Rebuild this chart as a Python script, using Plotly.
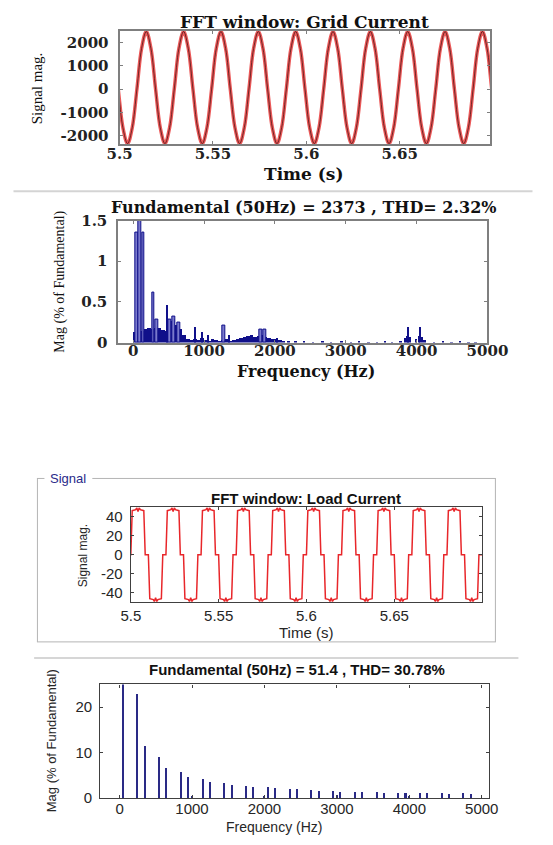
import plotly.graph_objects as go

# ---- data ----
# Grid current (top): one cycle shape, repeated at each cycle start (rising zero crossing)
grid_cycle_start = [5.4893, 5.5093, 5.5293, 5.5493, 5.5693, 5.5893,
                    5.6093, 5.6293, 5.6493, 5.6693, 5.6893, 5.7093]
grid_offset_ms = [0, 2.5, 5, 7.5, 10, 12.5, 15, 17.5]
grid_shape = [0, 1750, 2480, 1750, 0, -1660, -2350, -1660]

# Grid current spectrum (% of fundamental)
floor_freq = [25, 75, 125, 175, 225, 275, 325, 375, 425, 475, 525, 575, 625, 675,
              725, 775, 825, 875, 925, 975, 1025, 1075, 1125, 1175, 1225, 1275,
              1325, 1375, 1425, 1475, 1525, 1575, 1625, 1675, 1725, 1775, 1825,
              1875, 1925, 1975, 2025, 2075, 2125]
floor_mag = [0.14, 0.16, 0.15, 0.17, 0.18, 0.17, 0.19, 0.18, 0.16, 0.15, 0.27, 0.30,
             0.22, 0.17, 0.10, 0.05, 0.04, 0.05, 0.04, 0.06, 0.04, 0.03, 0.05, 0.04,
             0.03, 0.04, 0.05, 0.03, 0.04, 0.05, 0.06, 0.07, 0.09, 0.10, 0.08, 0.09,
             0.10, 0.08, 0.06, 0.05, 0.05, 0.04, 0.02]
tail_freq = [2200, 2300, 2420, 2550, 2680, 2800, 2950, 3080, 3200, 3330, 3450, 3560,
             3660, 3780, 3840, 3880, 3920, 4000, 4040, 4080, 4120, 4250, 4380, 4500,
             4620, 4740, 4840]
tail_mag = [0.03, 0.02, 0.02, 0.015, 0.02, 0.015, 0.02, 0.015, 0.02, 0.015, 0.015,
            0.02, 0.015, 0.02, 0.06, 0.09, 0.07, 0.05, 0.09, 0.07, 0.04, 0.015, 0.02,
            0.015, 0.02, 0.015, 0.015]
wide_freq = [55, 99, 143, 285, 328, 522, 573, 640, 1276, 1805, 1857]
wide_mag = [1.35, 1.6, 1.35, 0.62, 0.28, 0.28, 0.32, 0.25, 0.21, 0.16, 0.16]
narrow_freq = [483, 872, 981, 1064, 1361, 2038, 3882, 4049]
narrow_mag = [0.47, 0.20, 0.13, 0.10, 0.10, 0.06, 0.20, 0.20]

# Load current: one cycle shape, repeated at each rising edge
load_cycle_start = [5.48, 5.50, 5.52, 5.54, 5.56, 5.58, 5.60, 5.62, 5.64, 5.66, 5.68]
load_offset_ms = [0, 0.8, 2.8, 3.4, 4.1, 4.8, 5.4, 7.4, 8.2, 10.0,
                  10.8, 12.8, 13.4, 14.1, 14.8, 15.4, 17.4, 18.2, 20.0]
load_shape = [0, 46, 47, 49, 45, 49, 47, 46, 0, 0,
              -46, -47, -49, -45, -49, -47, -46, 0, 0]

# Load current spectrum (% of fundamental)
load_freq = [50, 250, 350, 550, 650, 850, 950, 1000, 1150, 1250, 1450, 1550, 1750,
             1850, 2000, 2050, 2150, 2350, 2450, 2650, 2750, 2950, 3000, 3050, 3250,
             3350, 3550, 3650, 3850, 3950, 4000, 4150, 4250, 4450, 4550, 4750, 4850]
load_mag = [100, 22.7, 11.3, 9.0, 6.5, 5.6, 4.5, 0.4, 4.1, 3.5, 3.2, 2.8, 2.6,
            2.4, 0.3, 2.3, 2.0, 1.9, 1.8, 1.7, 1.5, 1.5, 0.5, 1.3, 1.3,
            1.3, 1.2, 1.1, 1.1, 1.0, 0.4, 1.0, 0.9, 0.9, 0.8, 0.9, 0.8]

# build the repeated waveforms
grid_t, grid_v = [], []
for t0 in grid_cycle_start:
    for off, v in zip(grid_offset_ms, grid_shape):
        grid_t.append(t0 + off / 1000)
        grid_v.append(v)
load_t, load_v = [], []
for t0 in load_cycle_start:
    for off, v in zip(load_offset_ms, load_shape):
        load_t.append(t0 + off / 1000)
        load_v.append(v)

# ---- layout helpers (screen pixel positions -> paper fractions) ----
W, H = 553, 845
OFF = 8  # default body margin of the html page


def px(x):
    return (x - OFF) / W


def py(y):
    return 1 - (y - OFF) / H


def dx(a, b):
    return [px(a), px(b)]


def dy(top, bottom):
    return [py(bottom), py(top)]


SERIF = "DejaVu Serif"
SANS = "Liberation Sans"
NAVY = "#10108a"
LIGHT = "#7a7acc"

fig = go.Figure()

# top: grid current waveform
fig.add_trace(go.Scatter(x=grid_t, y=grid_v, mode="lines", line_shape="spline",
                         line=dict(color="rgba(232,60,60,0.85)", width=3.5),
                         xaxis="x", yaxis="y", hoverinfo="skip"))
fig.add_trace(go.Scatter(x=grid_t, y=grid_v, mode="lines", line_shape="spline",
                         line=dict(color="rgba(70,20,20,0.75)", width=1),
                         xaxis="x", yaxis="y"))

# grid spectrum
fig.add_trace(go.Bar(x=floor_freq, y=floor_mag, width=50, marker=dict(color=NAVY, line=dict(width=0)),
                     xaxis="x2", yaxis="y2"))
fig.add_trace(go.Bar(x=tail_freq, y=tail_mag, width=25, marker=dict(color=NAVY, line=dict(width=0)),
                     xaxis="x2", yaxis="y2"))
fig.add_trace(go.Bar(x=wide_freq, y=wide_mag, width=40,
                     marker=dict(color=LIGHT, line=dict(color=NAVY, width=1)),
                     xaxis="x2", yaxis="y2"))
fig.add_trace(go.Bar(x=narrow_freq, y=narrow_mag, width=12, marker=dict(color=NAVY, line=dict(width=0)),
                     xaxis="x2", yaxis="y2"))

# load current waveform
fig.add_trace(go.Scatter(x=load_t, y=load_v, mode="lines",
                         line=dict(color="#e8262a", width=1.5),
                         xaxis="x3", yaxis="y3"))

# load spectrum
fig.add_trace(go.Bar(x=load_freq, y=load_mag, width=28,
                     marker=dict(color="#2a2a86", line=dict(width=0)),
                     xaxis="x4", yaxis="y4"))

serif_tick = dict(family=SERIF, size=15, color="#222222", weight="bold")
sans_tick = dict(family=SANS, size=15, color="#262626")

frame12 = dict(showline=True, linecolor="#7f7f7f", linewidth=2, mirror="ticks",
               ticks="inside", ticklen=3, tickcolor="#7f7f7f", showgrid=False,
               zeroline=False, tickfont=serif_tick)
frame34 = dict(showline=True, linecolor="#404040", linewidth=1.2, mirror="ticks",
               ticks="inside", ticklen=3, tickcolor="#404040", showgrid=False,
               zeroline=False, tickfont=sans_tick)

fig.update_layout(
    width=W, height=H, margin=dict(l=0, r=0, t=0, b=0),
    paper_bgcolor="white", plot_bgcolor="white", showlegend=False,
    barmode="overlay", bargap=0,
    xaxis=dict(domain=dx(113, 508), anchor="y", range=[5.5, 5.6985], ticklabelstandoff=-5,
               tickvals=[5.5, 5.55, 5.6, 5.65], ticktext=["5.5", "5.55", "5.6", "5.65"], **frame12),
    yaxis=dict(domain=dy(22.3, 137.7), anchor="x", range=[-2360, 2500],
               tickvals=[-2000, -1000, 0, 1000, 2000], ticklabelstandoff=6,
               ticktext=["-2000", "-1000", "0", "1000", "2000"], **frame12),
    xaxis2=dict(domain=dx(111.7, 505), anchor="y2", range=[-210, 5000], ticklabelstandoff=-7,
                tickvals=[0, 1000, 2000, 3000, 4000, 5000], **frame12),
    yaxis2=dict(domain=dy(216, 340.7), anchor="x2", range=[0, 1.5], ticklabelstandoff=6,
                tickvals=[0, 0.5, 1, 1.5], ticktext=["0", "0.5", "1", "1.5"], **frame12),
    xaxis3=dict(domain=dx(125, 499.3), anchor="y3", range=[5.5, 5.7], ticklabelstandoff=0,
                tickvals=[5.5, 5.55, 5.6, 5.65], ticktext=["5.5", "5.55", "5.6", "5.65"], **frame34),
    yaxis3=dict(domain=dy(509, 605.7), anchor="x3", range=[-49.5, 49.5], ticklabelstandoff=4,
                tickvals=[-40, -20, 0, 20, 40], ticktext=["-40", "-20", "0", "20", "40"], **frame34),
    xaxis4=dict(domain=dx(92.4, 507), anchor="y4", range=[-267, 5104], ticklabelstandoff=-3,
                tickvals=[0, 1000, 2000, 3000, 4000, 5000], **frame34),
    yaxis4=dict(domain=dy(690, 806), anchor="x4", range=[0, 25], ticklabelstandoff=4,
                tickvals=[0, 10, 20], **frame34),
)

ann = []


def label(text, x, y, font, angle=0):
    ann.append(dict(text=text, x=px(x), y=py(y), xref="paper", yref="paper",
                    showarrow=False, xanchor="center", yanchor="middle",
                    textangle=angle, font=font))


label("FFT window: Grid Current", 310, 13, dict(family=SERIF, size=17, color="#111111", weight="bold"))
label("Time (s)", 310, 168, dict(family=SERIF, size=17, color="#111111", weight="bold"))
label("Signal mag.", 26, 81, dict(family="Liberation Serif", size=15, color="#111111"), -90)

label("Fundamental (50Hz) = 2373 , THD= 2.32%", 310, 203,
      dict(family=SERIF, size=16, color="#111111", weight="bold"))
label("Frequency (Hz)", 312, 370, dict(family=SERIF, size=16, color="#111111", weight="bold"))
label("Mag (% of Fundamental)", 50, 278, dict(family="Liberation Serif", size=14, color="#111111"), -90)

label("FFT window: Load Current", 312, 500, dict(family=SANS, size=15, color="#111111", weight="bold"))
label("Time (s)", 312, 637, dict(family=SANS, size=15, color="#262626"))
label("Signal mag.", 74, 558, dict(family=SANS, size=12, color="#262626"), -90)
ann.append(dict(text="Signal", x=px(37), y=py(480), xref="paper", yref="paper",
                showarrow=False, xanchor="left", yanchor="middle",
                font=dict(family=SANS, size=13, color="#2a2a8a")))

label("Fundamental (50Hz) = 51.4 , THD= 30.78%", 302, 675,
      dict(family=SANS, size=15, color="#111111", weight="bold"))
label("Frequency (Hz)", 278, 836, dict(family=SANS, size=14, color="#262626"))
label("Mag (% of Fundamental)", 40, 748, dict(family=SANS, size=13, color="#262626"), -90)

fig.update_layout(annotations=ann)

# separators and the "Signal" panel frame
shapes = []


def hline(x0, x1, y, color, width):
    shapes.append(dict(type="line", xref="paper", yref="paper", x0=px(x0), x1=px(x1),
                       y0=py(y), y1=py(y), line=dict(color=color, width=width)))


def vline(x, y0, y1, color, width):
    shapes.append(dict(type="line", xref="paper", yref="paper", x0=px(x), x1=px(x),
                       y0=py(y0), y1=py(y1), line=dict(color=color, width=width)))


hline(0, 553, 186, "#d4d4d4", 2)
hline(25, 33, 479.5, "#b4b4b4", 1)
hline(84, 514, 479.5, "#b4b4b4", 1)
hline(25, 514, 646.5, "#b4b4b4", 1)
vline(25.5, 479.5, 646.5, "#b4b4b4", 1)
vline(513.5, 479.5, 646.5, "#b4b4b4", 1)
hline(22, 538, 663, "#c8c8c8", 1.5)
fig.update_layout(shapes=shapes)

fig.write_html("out.html")
